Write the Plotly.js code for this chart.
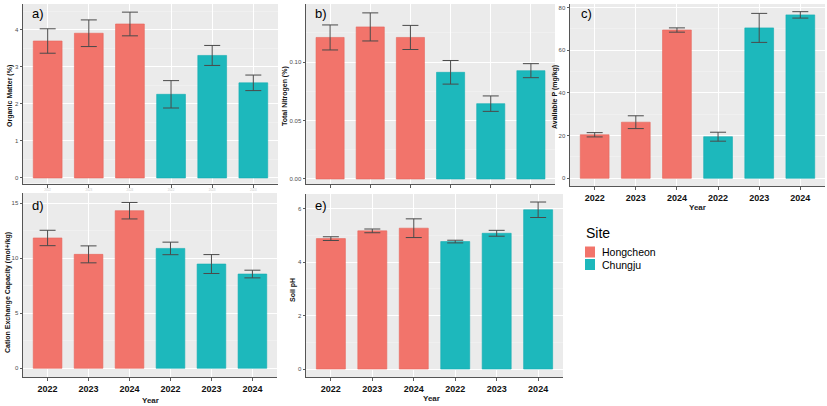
<!DOCTYPE html>
<html>
<head>
<meta charset="utf-8">
<script src="https://cdn.plot.ly/plotly-3.0.1.min.js"></script>
<style>
html,body{margin:0;padding:0;background:#fff;}
#chart{width:827px;height:406px;}
</style>
</head>
<body>
<div id="chart"></div>
<script>
// ---- data ----
const years = ['2022', '2023', '2024'];
const sites = ['Hongcheon', 'Chungju'];
const siteColors = ['#F2746B', '#1DB8BC'];
const siteEdge = ['#E5645B', '#12ADB1'];

const omHong = [3.70, 3.91, 4.16];
const omHongSD = [0.33, 0.36, 0.32];
const omChung = [2.26, 3.31, 2.57];
const omChungSD = [0.37, 0.27, 0.21];

const tnHong = [0.121, 0.130, 0.121];
const tnHongSD = [0.0107, 0.0120, 0.0103];
const tnChung = [0.0912, 0.0644, 0.0926];
const tnChungSD = [0.0101, 0.0066, 0.0060];

const apHong = [20.4, 26.3, 69.5];
const apHongSD = [1.0, 3.0, 1.0];
const apChung = [19.5, 70.5, 76.6];
const apChungSD = [2.1, 6.8, 1.5];

const cecHong = [11.85, 10.36, 14.33];
const cecHongSD = [0.70, 0.77, 0.75];
const cecChung = [10.90, 9.48, 8.57];
const cecChungSD = [0.57, 0.86, 0.35];

const phHong = [4.88, 5.17, 5.27];
const phHongSD = [0.07, 0.07, 0.35];
const phChung = [4.77, 5.08, 5.96];
const phChungSD = [0.05, 0.11, 0.29];

const yTitles = ['Organic Matter (%)', 'Total Nitrogen (%)', 'Available P (mg/kg)',
                 'Cation Exchange Capacity (mol+/kg)', 'Soil pH'];
const panelLabels = ['a)', 'b)', 'c)', 'd)', 'e)'];
const xTitle = 'Year';
const legendTitle = 'Site';

// ---- layout helpers ----
const W = 827, H = 406;
const px = v => v / W;
const py = v => 1 - v / H;

const cats = [];
sites.forEach(s => years.forEach(y => cats.push(s + ' ' + y)));
const tickText = [];
sites.forEach(() => years.forEach(y => tickText.push(y)));

const panels = [
  {h: omHong, hs: omHongSD, c: omChung, cs: omChungSD, box: [23, 278, 4, 183.5], yr: [-0.15, 4.70], dt: 1, mdt: 0.5, fmt: '', xlab: 'tiny', title: [10, 96], lab: [30, 13]},
  {h: tnHong, hs: tnHongSD, c: tnChung, cs: tnChungSD, box: [306, 555, 4, 184], yr: [-0.0043, 0.1496], dt: 0.05, mdt: 0.025, fmt: '.2f', xlab: 'none', title: [285, 96], lab: [313, 13]},
  {h: apHong, hs: apHongSD, c: apChung, cs: apChungSD, box: [570, 825, 4, 186], yr: [-3.61, 81.7], dt: 20, mdt: 10, fmt: '', xlab: 'full', title: [555, 97], lab: [579, 13], year: [697.7, 207]},
  {h: cecHong, hs: cecHongSD, c: cecChung, cs: cecChungSD, box: [23, 277, 193, 377.3], yr: [-0.82, 15.94], dt: 5, mdt: 2.5, fmt: '', xlab: 'full', title: [8, 293], lab: [30, 205], year: [150, 400.5]},
  {h: phHong, hs: phHongSD, c: phChung, cs: phChungSD, box: [306, 563, 194, 377.3], yr: [-0.31, 6.55], dt: 2, mdt: 1, fmt: '', xlab: 'full', title: [293, 290], lab: [313, 205], year: [431.7, 398.5]}
];

const FONT = 'Liberation Sans, Arial, sans-serif';
const traces = [];
const layout = {
  width: W, height: H,
  margin: {l: 0, r: 0, t: 0, b: 0},
  paper_bgcolor: '#ffffff',
  plot_bgcolor: '#EBEBEB',
  showlegend: false,
  barmode: 'overlay',
  font: {family: FONT, color: '#000'},
  annotations: [],
  shapes: []
};

panels.forEach((p, i) => {
  const n = i === 0 ? '' : String(i + 1);
  const xa = 'x' + n, ya = 'y' + n;
  const series = [[p.h, p.hs], [p.c, p.cs]];
  series.forEach((s, k) => {
    traces.push({
      type: 'bar',
      x: years.map(y => sites[k] + ' ' + y),
      y: s[0],
      width: 0.7,
      name: sites[k],
      xaxis: xa, yaxis: ya,
      marker: {color: siteColors[k], line: {color: siteEdge[k], width: 0.6}},
      error_y: {type: 'data', array: s[1], visible: true, color: '#4a4a4a', thickness: 1, width: 8},
      hoverinfo: 'x+y'
    });
  });
  const [x0, x1, y0, y1] = p.box;
  const xTickFont = p.xlab === 'full'
    ? {size: 9, color: '#111', family: FONT, weight: 'bold'}
    : {size: 3, color: '#c8c8c8', family: FONT};
  layout['xaxis' + n] = {
    domain: [px(x0), px(x1)],
    anchor: ya,
    type: 'category',
    categoryorder: 'array',
    categoryarray: cats,
    tickvals: cats,
    ticktext: tickText,
    range: [-0.6, 5.6],
    showgrid: true, gridcolor: '#ffffff', gridwidth: 1,
    showline: true, linecolor: '#555555', linewidth: 1,
    ticks: 'outside', ticklen: 3, tickcolor: '#333333', tickwidth: 0.8,
    showticklabels: p.xlab !== 'none',
    tickfont: xTickFont,
    zeroline: false,
    fixedrange: true
  };
  layout['yaxis' + n] = {
    domain: [py(y1), py(y0)],
    anchor: xa,
    range: p.yr,
    dtick: p.dt, tick0: 0,
    tickformat: p.fmt,
    showgrid: true, gridcolor: '#ffffff', gridwidth: 1,
    minor: {dtick: p.mdt, tick0: 0, showgrid: true, gridcolor: '#F5F5F5', gridwidth: 0.5, ticks: ''},
    showline: true, linecolor: '#555555', linewidth: 1,
    ticks: 'outside', ticklen: 2.5, tickcolor: '#333333', tickwidth: 0.8,
    tickfont: {size: 6, color: '#4D4D4D', family: FONT},
    zeroline: false,
    fixedrange: true
  };
  // y axis title
  layout.annotations.push({
    xref: 'paper', yref: 'paper', x: px(p.title[0]), y: py(p.title[1]),
    text: yTitles[i], textangle: -90, showarrow: false,
    xanchor: 'center', yanchor: 'middle',
    font: {size: 7, color: '#111', family: FONT, weight: 'bold'}
  });
  // panel label
  layout.annotations.push({
    xref: 'paper', yref: 'paper', x: px(p.lab[0]), y: py(p.lab[1]),
    text: panelLabels[i], showarrow: false,
    xanchor: 'left', yanchor: 'middle',
    font: {size: 13, color: '#000', family: FONT}
  });
  if (p.year) {
    layout.annotations.push({
      xref: 'paper', yref: 'paper', x: px(p.year[0]), y: py(p.year[1]),
      text: xTitle, showarrow: false,
      xanchor: 'center', yanchor: 'middle',
      font: {size: 8, color: '#222', family: FONT, weight: 'bold'}
    });
  }
});

// ---- legend (Site) ----
layout.annotations.push({
  xref: 'paper', yref: 'paper', x: px(584), y: py(233),
  text: legendTitle, showarrow: false, xanchor: 'left', yanchor: 'middle',
  font: {size: 14, color: '#000', family: FONT}
});
sites.forEach((s, k) => {
  const top = 246.5 + k * 12.5;
  layout.shapes.push({
    type: 'rect', xref: 'paper', yref: 'paper',
    x0: px(585), x1: px(595), y0: py(top + 11), y1: py(top),
    fillcolor: siteColors[k], line: {width: 0}
  });
  layout.annotations.push({
    xref: 'paper', yref: 'paper', x: px(601), y: py(top + 5.5),
    text: s, showarrow: false, xanchor: 'left', yanchor: 'middle',
    borderpad: 0,
    font: {size: 10.5, color: '#000', family: FONT}
  });
});

Plotly.newPlot('chart', traces, layout, {displayModeBar: false, staticPlot: true});
</script>
</body>
</html>
